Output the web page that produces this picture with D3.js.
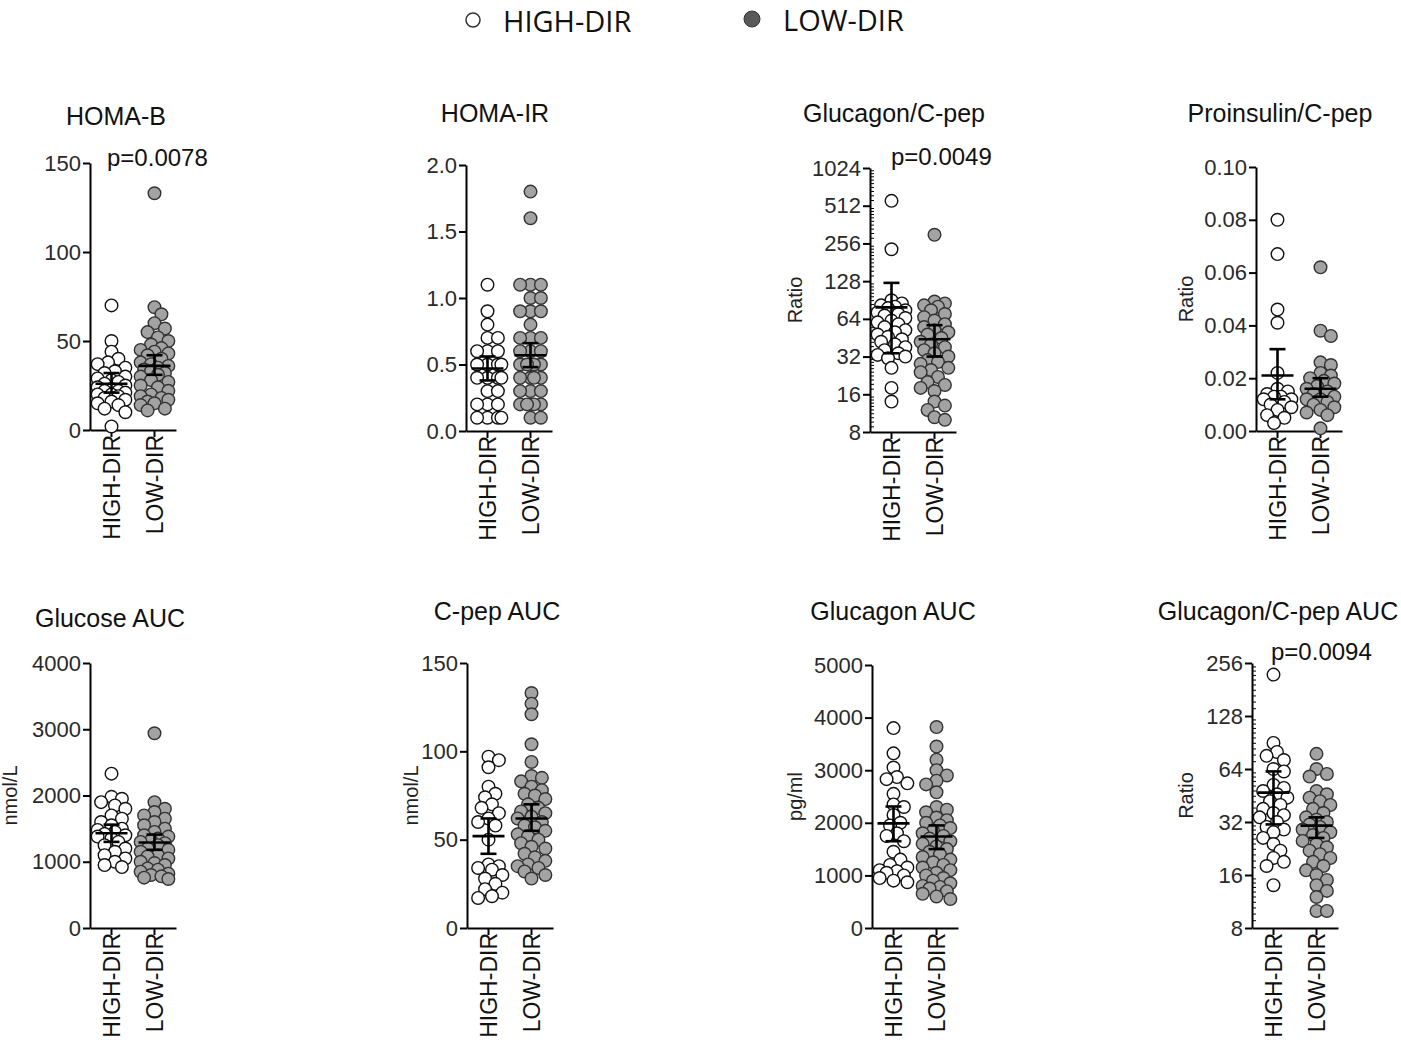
<!DOCTYPE html>
<html>
<head>
<meta charset="utf-8">
<script src="https://cdn.jsdelivr.net/npm/d3@7"></script>
<style>
  body { margin: 0; background: #fff; }
  svg { display: block; font-family: "Liberation Sans", Arial, sans-serif; }
</style>
</head>
<body>
<svg id="chart" width="1401" height="1040"></svg>
<script>
// groups
var groups = ["HIGH-DIR", "LOW-DIR"];

// HOMA-B
var homaBHigh = [70, 50, 44, 40, 38, 37, 35, 33, 32, 30, 29, 28, 27, 26, 25, 24, 23, 22, 22, 21, 20, 20, 19, 18, 17, 16, 15, 14, 12, 10, 2];
var homaBLow = [133, 69, 65, 60, 57, 55, 52, 50, 48, 46, 45, 44, 43, 42, 40, 38, 37, 36, 35, 34, 33, 32, 31, 30, 28, 27, 25, 24, 22, 20, 19, 18, 17, 16, 15, 14, 12, 11];
var homaBStats = [[26, 21, 32], [36, 31, 42]];   // mean, lower, upper
var homaBTicks = [0, 50, 100, 150];

// HOMA-IR
var homaIRHigh = [1.1, 0.9, 0.8, 0.7, 0.7, 0.6, 0.6, 0.6, 0.5, 0.5, 0.5, 0.5, 0.4, 0.4, 0.4, 0.4, 0.3, 0.3, 0.2, 0.2, 0.2, 0.1, 0.1, 0.1, 0.1];
var homaIRLow = [1.8, 1.6, 1.1, 1.1, 1.1, 1.0, 1.0, 0.9, 0.9, 0.9, 0.8, 0.7, 0.7, 0.7, 0.6, 0.6, 0.6, 0.5, 0.5, 0.5, 0.5, 0.5, 0.4, 0.4, 0.4, 0.4, 0.3, 0.3, 0.3, 0.2, 0.2, 0.2, 0.2, 0.2, 0.1, 0.1];
var homaIRStats = [[0.47, 0.38, 0.56], [0.57, 0.48, 0.66]];
var homaIRTicks = [0, 0.5, 1.0, 1.5, 2.0];

// Glucagon/C-pep (log2)
var glcCpHigh = [560, 230, 90, 85, 82, 80, 78, 75, 72, 70, 68, 65, 62, 60, 58, 55, 52, 50, 48, 46, 44, 42, 40, 38, 36, 34, 33, 32, 31, 26, 18, 14];
var glcCpLow = [300, 88, 85, 82, 80, 75, 70, 66, 62, 58, 55, 52, 50, 48, 45, 42, 40, 38, 36, 34, 32, 30, 29, 28, 26, 25, 24, 22, 20, 19, 18, 17, 14, 13, 12, 10.5, 10];
var glcCpStats = [[79, 34, 124], [44, 32, 57]];
var glcCpTicks = [8, 16, 32, 64, 128, 256, 512, 1024];

// Proinsulin/C-pep
var proCpHigh = [0.080, 0.067, 0.046, 0.041, 0.022, 0.016, 0.015, 0.014, 0.013, 0.013, 0.012, 0.012, 0.011, 0.010, 0.009, 0.008, 0.006, 0.005, 0.003];
var proCpLow = [0.062, 0.038, 0.036, 0.026, 0.025, 0.022, 0.021, 0.020, 0.019, 0.018, 0.017, 0.016, 0.015, 0.014, 0.013, 0.012, 0.012, 0.011, 0.010, 0.009, 0.008, 0.007, 0.006, 0.001];
var proCpStats = [[0.021, 0.012, 0.031], [0.016, 0.013, 0.020]];
var proCpTicks = [0, 0.02, 0.04, 0.06, 0.08, 0.10];

// Glucose AUC
var glucHigh = [2330, 1980, 1950, 1900, 1850, 1800, 1700, 1650, 1600, 1550, 1500, 1480, 1450, 1420, 1400, 1380, 1350, 1300, 1250, 1200, 1150, 1100, 1050, 1000, 950, 920];
var glucLow = [2940, 1900, 1800, 1750, 1700, 1650, 1600, 1550, 1500, 1450, 1400, 1380, 1350, 1320, 1300, 1280, 1250, 1200, 1180, 1150, 1100, 1080, 1050, 1000, 980, 950, 900, 880, 850, 820, 800, 780, 760, 740];
var glucStats = [[1430, 1300, 1560], [1290, 1180, 1410]];
var glucTicks = [0, 1000, 2000, 3000, 4000];

// C-pep AUC
var cpepHigh = [97, 95, 91, 80, 76, 74, 70, 68, 65, 62, 60, 58, 50, 36, 35, 34, 33, 30, 28, 25, 22, 20, 18, 17];
var cpepLow = [133, 127, 121, 104, 94, 86, 85, 83, 80, 78, 76, 75, 73, 70, 68, 66, 65, 63, 62, 60, 58, 57, 55, 53, 52, 50, 48, 46, 45, 42, 40, 38, 36, 35, 34, 32, 30, 28];
var cpepStats = [[52, 42, 62], [62, 55, 70]];
var cpepTicks = [0, 50, 100, 150];

// Glucagon AUC
var glgHigh = [3800, 3320, 3050, 2870, 2830, 2750, 2550, 2350, 2300, 2150, 2000, 1950, 1800, 1750, 1650, 1450, 1300, 1200, 1150, 1100, 1080, 1050, 1000, 950, 900, 870];
var glgLow = [3820, 3450, 3200, 3000, 2900, 2800, 2730, 2580, 2300, 2250, 2200, 2100, 2050, 2000, 1950, 1900, 1850, 1800, 1750, 1700, 1650, 1600, 1550, 1500, 1450, 1400, 1350, 1300, 1250, 1200, 1150, 1100, 1050, 1000, 950, 900, 850, 800, 780, 750, 700, 650, 600, 550];
var glgStats = [[1990, 1650, 2310], [1740, 1500, 1950]];
var glgTicks = [0, 1000, 2000, 3000, 4000, 5000];

// Glucagon/C-pep AUC (log2)
var ratioAucHigh = [220, 90, 80, 76, 72, 64, 62, 52, 50, 48, 46, 44, 42, 40, 38, 36, 35, 34, 32, 30, 29, 28, 26, 24, 22, 20, 19, 18, 14];
var ratioAucLow = [78, 64, 60, 58, 48, 46, 44, 42, 40, 38, 36, 34, 33, 32, 31, 30, 29, 28, 27, 26, 25, 24, 23, 22, 21, 20, 19, 18, 17, 16, 15, 14, 13, 12, 10, 10];
var ratioAucStats = [[47, 31, 62], [30.5, 26, 34]];
var ratioAucTicks = [8, 16, 32, 64, 128, 256];

var svg = d3.select("#chart");
var R = 6.3;
var FONT = '"Liberation Sans", Arial, sans-serif';

var panels = [
  {title: "HOMA-B", high: homaBHigh, low: homaBLow, stats: homaBStats, ticks: homaBTicks, fmt: d3.format("d"),
   x: 90, top: 163, bottom: 430, tx: 116, ty: 125, p: "p=0.0078", px: 107, py: 166},
  {title: "HOMA-IR", high: homaIRHigh, low: homaIRLow, stats: homaIRStats, ticks: homaIRTicks, fmt: d3.format(".1f"),
   x: 466, top: 165, bottom: 431, tx: 495, ty: 122},
  {title: "Glucagon/C-pep", high: glcCpHigh, low: glcCpLow, stats: glcCpStats, ticks: glcCpTicks, fmt: d3.format("d"), log: true,
   x: 870, top: 168, bottom: 432, tx: 894, ty: 122, p: "p=0.0049", px: 891, py: 165, unit: "Ratio", ux: 802},
  {title: "Proinsulin/C-pep", high: proCpHigh, low: proCpLow, stats: proCpStats, ticks: proCpTicks, fmt: d3.format(".2f"),
   x: 1256, top: 167, bottom: 431, tx: 1280, ty: 122, unit: "Ratio", ux: 1193},
  {title: "Glucose AUC", high: glucHigh, low: glucLow, stats: glucStats, ticks: glucTicks, fmt: d3.format("d"),
   x: 90, top: 663, bottom: 928, tx: 110, ty: 627, unit: "nmol/L", ux: 17},
  {title: "C-pep AUC", high: cpepHigh, low: cpepLow, stats: cpepStats, ticks: cpepTicks, fmt: d3.format("d"),
   x: 467, top: 663, bottom: 928, tx: 497, ty: 620, unit: "nmol/L", ux: 418},
  {title: "Glucagon AUC", high: glgHigh, low: glgLow, stats: glgStats, ticks: glgTicks, fmt: d3.format("d"),
   x: 872, top: 665, bottom: 928, tx: 893, ty: 620, unit: "pg/ml", ux: 802},
  {title: "Glucagon/C-pep AUC", high: ratioAucHigh, low: ratioAucLow, stats: ratioAucStats, ticks: ratioAucTicks, fmt: d3.format("d"), log: true,
   x: 1252, top: 663, bottom: 928, tx: 1278, ty: 620, p: "p=0.0094", px: 1271, py: 660, unit: "Ratio", ux: 1193}
];

// compact beeswarm: points pushed sideways only a little, overlapping as in Prism
function swarm(vals, y, cx, r, maxOff) {
  var pts = vals.map(function(v){ return {v: v, py: y(v)} }).sort(function(a, b){ return a.py - b.py });
  var placed = [];
  var step = r * 0.55;
  pts.forEach(function(p) {
    var best = 0, bestD = -1, done = false;
    for (var k = 0; k <= Math.floor(maxOff / step) && !done; k++) {
      var offs = k === 0 ? [0] : [k * step, -k * step];
      for (var i = 0; i < offs.length; i++) {
        var md = Infinity;
        placed.forEach(function(q){
          var d = Math.hypot(q.px - (cx + offs[i]), q.py - p.py);
          if (d < md) md = d;
        });
        if (md >= 2 * r - 3) { best = offs[i]; done = true; break; }
        if (md > bestD) { bestD = md; best = offs[i]; }
      }
    }
    p.px = cx + best;
    placed.push(p);
  });
  return placed;
}

panels.forEach(function(p) {
  var g = svg.append("g");

  var y = p.log
    ? d3.scaleLog().base(2).domain([p.ticks[0], p.ticks[p.ticks.length - 1]]).range([p.bottom, p.top])
    : d3.scaleLinear().domain([p.ticks[0], p.ticks[p.ticks.length - 1]]).range([p.bottom, p.top]);
  var x = d3.scaleBand().domain(groups).range([p.x, p.x + 86]);

  // y axis
  var ya = g.append("g")
    .attr("transform", "translate(" + p.x + ",0)")
    .call(d3.axisLeft(y).tickValues(p.ticks).tickFormat(p.fmt).tickSize(7).tickSizeOuter(0));
  ya.attr("font-size", null).attr("font-family", null);
  ya.select(".domain").attr("stroke", "#000").attr("stroke-width", 2);
  ya.selectAll(".tick line").attr("stroke", "#000").attr("stroke-width", 2);
  ya.selectAll(".tick text").attr("x", -9).attr("fill", "#2a2a2a")
    .style("font-size", "22px").style("font-family", FONT);

  // log axes: minor ticks inside the axis
  if (p.log) {
    var minors = [];
    for (var i = 0; i < p.ticks.length - 1; i++) {
      for (var j = 1; j < 10; j++) minors.push(p.ticks[i] * (1 + j / 10));
    }
    g.selectAll(".minor").data(minors).enter().append("line")
      .attr("x1", p.x).attr("x2", p.x + 4)
      .attr("y1", function(d){ return y(d) }).attr("y2", function(d){ return y(d) })
      .attr("stroke", "#000").attr("stroke-width", 1);
  }

  // x axis
  var xa = g.append("g")
    .attr("transform", "translate(0," + p.bottom + ")")
    .call(d3.axisBottom(x).tickSize(7).tickSizeOuter(0));
  xa.attr("font-size", null).attr("font-family", null);
  xa.select(".domain").attr("stroke", "#000").attr("stroke-width", 2);
  xa.selectAll(".tick line").attr("stroke", "#000").attr("stroke-width", 2);
  xa.selectAll(".tick text")
    .attr("transform", "rotate(-90)")
    .attr("x", -5).attr("y", 0).attr("dy", "0.36em")
    .style("text-anchor", "end").attr("fill", "#111")
    .style("font-size", "23px").style("font-family", FONT);

  // points
  [p.high, p.low].forEach(function(vals, gi) {
    var cx = x(groups[gi]) + x.bandwidth() / 2;
    var pts = swarm(vals, y, cx, R, 14);
    g.append("g").selectAll("circle").data(pts).enter().append("circle")
      .attr("cx", function(d){ return d.px })
      .attr("cy", function(d){ return d.py })
      .attr("r", R)
      .attr("fill", gi === 0 ? "#fff" : "#a3a3a3")
      .attr("stroke", gi === 0 ? "#111" : "#333")
      .attr("stroke-width", 1.4);
  });

  // mean and error bars
  p.stats.forEach(function(s, gi) {
    var cx = x(groups[gi]) + x.bandwidth() / 2;
    var eb = g.append("g").attr("stroke", "#000").attr("stroke-width", 2.6);
    eb.append("line").attr("x1", cx - 16).attr("x2", cx + 16).attr("y1", y(s[0])).attr("y2", y(s[0]));
    eb.append("line").attr("x1", cx).attr("x2", cx).attr("y1", y(s[1])).attr("y2", y(s[2]));
    eb.append("line").attr("x1", cx - 8).attr("x2", cx + 8).attr("y1", y(s[1])).attr("y2", y(s[1]));
    eb.append("line").attr("x1", cx - 8).attr("x2", cx + 8).attr("y1", y(s[2])).attr("y2", y(s[2]));
  });

  // title
  g.append("text").attr("x", p.tx).attr("y", p.ty)
    .attr("text-anchor", "middle").attr("fill", "#111")
    .style("font-size", "25px").text(p.title);

  // p value
  if (p.p) {
    g.append("text").attr("x", p.px).attr("y", p.py)
      .attr("fill", "#111").style("font-size", "24px").text(p.p);
  }

  // y label
  if (p.unit) {
    var cy = (p.top + p.bottom) / 2;
    g.append("text")
      .attr("transform", "translate(" + p.ux + "," + cy + ") rotate(-90)")
      .attr("text-anchor", "middle").attr("fill", "#222")
      .style("font-size", "20px").text(p.unit);
  }
});

// legend
var legend = svg.append("g").style("font-family", '"Open Sans", "DejaVu Sans", sans-serif');
legend.append("circle").attr("cx", 473).attr("cy", 20).attr("r", 7)
  .attr("fill", "#fff").attr("stroke", "#333").attr("stroke-width", 1.5);
legend.append("text").attr("x", 503).attr("y", 32).style("font-size", "29px").attr("fill", "#111").text(groups[0]);
legend.append("circle").attr("cx", 752).attr("cy", 19).attr("r", 8)
  .attr("fill", "#595959").attr("stroke", "#333").attr("stroke-width", 1);
legend.append("text").attr("x", 783).attr("y", 31).style("font-size", "29px").attr("fill", "#111").text(groups[1]);
</script>
</body>
</html>
